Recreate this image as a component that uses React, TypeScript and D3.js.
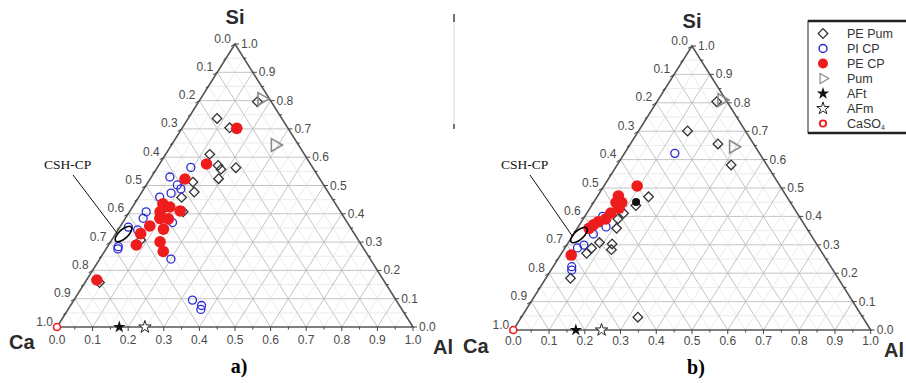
import React from "react";
import * as d3 from "d3";

// Compositions: si = Si fraction, al = Al fraction (Ca = 1 - si - al)
type Pt = { si: number; al: number };

// ---- panel a) ----
const pePumA: Pt[] = [
  { si: 0.796, al: 0.165 }, { si: 0.737, al: 0.081 }, { si: 0.704, al: 0.133 },
  { si: 0.61, al: 0.124 }, { si: 0.571, al: 0.167 }, { si: 0.557, al: 0.182 },
  { si: 0.563, al: 0.221 }, { si: 0.524, al: 0.192 }, { si: 0.512, al: 0.126 },
  { si: 0.477, al: 0.147 }, { si: 0.458, al: 0.121 }, { si: 0.407, al: 0.151 },
  { si: 0.307, al: 0.082 }, { si: 0.157, al: 0.041 },
];
const piCpA: Pt[] = [
  { si: 0.564, al: 0.094 }, { si: 0.53, al: 0.052 }, { si: 0.502, al: 0.087 },
  { si: 0.488, al: 0.104 }, { si: 0.473, al: 0.084 }, { si: 0.459, al: 0.059 },
  { si: 0.407, al: 0.047 }, { si: 0.384, al: 0.05 }, { si: 0.353, al: 0.024 },
  { si: 0.343, al: 0.055 }, { si: 0.284, al: 0.03 }, { si: 0.276, al: 0.033 },
  { si: 0.24, al: 0.2 }, { si: 0.369, al: 0.14 }, { si: 0.095, al: 0.333 },
  { si: 0.076, al: 0.368 }, { si: 0.062, al: 0.373 },
];
const peCpA: Pt[] = [
  { si: 0.702, al: 0.154 }, { si: 0.576, al: 0.132 }, { si: 0.523, al: 0.098 },
  { si: 0.435, al: 0.08 }, { si: 0.425, al: 0.091 }, { si: 0.407, al: 0.086 },
  { si: 0.424, al: 0.105 }, { si: 0.384, al: 0.097 }, { si: 0.382, al: 0.122 },
  { si: 0.41, al: 0.141 }, { si: 0.346, al: 0.126 }, { si: 0.357, al: 0.082 },
  { si: 0.33, al: 0.07 }, { si: 0.29, al: 0.078 }, { si: 0.301, al: 0.139 },
  { si: 0.267, al: 0.165 }, { si: 0.166, al: 0.029 },
];
const pumA: Pt[] = [{ si: 0.806, al: 0.172 }, { si: 0.643, al: 0.291 }];
const dotA: Pt[] = [];

// ---- panel b) ----
const pePumB: Pt[] = [
  { si: 0.804, al: 0.167 }, { si: 0.701, al: 0.137 }, { si: 0.655, al: 0.245 },
  { si: 0.581, al: 0.319 }, { si: 0.469, al: 0.144 }, { si: 0.438, al: 0.124 },
  { si: 0.411, al: 0.103 }, { si: 0.391, al: 0.097 }, { si: 0.358, al: 0.11 },
  { si: 0.303, al: 0.125 }, { si: 0.283, al: 0.133 }, { si: 0.308, al: 0.087 },
  { si: 0.288, al: 0.075 }, { si: 0.27, al: 0.07 }, { si: 0.182, al: 0.069 },
  { si: 0.045, al: 0.326 },
];
const piCpB: Pt[] = [
  { si: 0.622, al: 0.141 }, { si: 0.41, al: 0.067 }, { si: 0.4, al: 0.05 },
  { si: 0.363, al: 0.078 }, { si: 0.338, al: 0.055 }, { si: 0.299, al: 0.048 },
  { si: 0.289, al: 0.035 }, { si: 0.223, al: 0.052 }, { si: 0.211, al: 0.058 },
];
const peCpB: Pt[] = [
  { si: 0.507, al: 0.093 }, { si: 0.472, al: 0.058 }, { si: 0.449, al: 0.063 },
  { si: 0.449, al: 0.079 }, { si: 0.429, al: 0.081 }, { si: 0.412, al: 0.067 },
  { si: 0.391, al: 0.063 }, { si: 0.381, al: 0.047 }, { si: 0.37, al: 0.039 },
  { si: 0.358, al: 0.033 }, { si: 0.264, al: 0.03 },
];
const pumB: Pt[] = [{ si: 0.81, al: 0.178 }, { si: 0.645, al: 0.293 }];
const dotB: Pt[] = [{ si: 0.451, al: 0.118 }];

// Reference phases (same in both panels)
const aft: Pt[] = [{ si: 0, al: 0.175 }];
const afm: Pt[] = [{ si: 0, al: 0.247 }];
const caso4: Pt[] = [{ si: 0, al: 0 }];

const tickValues = d3.range(0, 11).map((i) => i / 10);
const tickLabels = ["0.0", "0.1", "0.2", "0.3", "0.4", "0.5", "0.6", "0.7", "0.8", "0.9", "1.0"];
const legendLabels = ["PE Pum", "PI CP", "PE CP", "Pum", "AFt", "AFm", "CaSO"];

const FONT = "'Liberation Sans', Arial, sans-serif";
const SERIF = "'Liberation Serif', 'Times New Roman', serif";
const RED = "#ee1c1c";
const BLUE = "#2a2ad6";
const DARK = "#333";
const GRAY = "#8a8a8a";

const diamondPath = d3.symbol().type(d3.symbolSquare).size(46)()!;
const trianglePath = d3.symbol().type(d3.symbolTriangle).size(70)()!;
const starPath = d3.symbol().type(d3.symbolStar).size(48)()!;

type Geom = {
  x0: number; yBase: number; w: number; h: number;
  labelDy: number; caX: number; caY: number; alX: number; alY: number;
  siY: number; tag: string; tagY: number;
  ell: { cx: number; cy: number }; lead: [number, number, number, number]; cshX: number; cshY: number;
};

type Series = { peCp: Pt[]; piCp: Pt[]; pePum: Pt[]; pum: Pt[]; dot: Pt[] };

function Panel({ g, s }: { g: Geom; s: Series }) {
  const xs = d3.scaleLinear().domain([0, 1]).range([g.x0, g.x0 + g.w]);
  const ys = d3.scaleLinear().domain([0, 1]).range([g.yBase, g.yBase - g.h]);
  const P = (al: number, si: number): [number, number] => [xs(al + si / 2), ys(si)];

  const grid: { a: [number, number]; b: [number, number]; major: boolean }[] = [];
  d3.range(1, 20).forEach((i) => {
    const v = i / 20;
    const major = i % 2 === 0;
    grid.push({ a: P(0, v), b: P(1 - v, v), major });
    grid.push({ a: P(v, 0), b: P(v, 1 - v), major });
    grid.push({ a: P(1 - v, 0), b: P(0, 1 - v), major });
  });

  const minor = d3.range(0, 21).map((i) => i / 20);
  const A = P(0, 0), B = P(1, 0), C = P(0, 1);
  const topX = C[0];

  return (
    <g>
      {grid.map((l, i) => (
        <line key={i} x1={l.a[0]} y1={l.a[1]} x2={l.b[0]} y2={l.b[1]}
          stroke={l.major ? "#bdbdbd" : "#e2e2e2"} strokeWidth={l.major ? 0.9 : 0.7} />
      ))}
      <path d={`M${A[0]},${A[1]}L${B[0]},${B[1]}L${C[0]},${C[1]}Z`} fill="none" stroke="#555" strokeWidth={1.6} />

      {/* ticks */}
      {minor.map((v, i) => {
        const len = i % 2 === 0 ? 4 : 2.5;
        const b = P(v, 0), l = P(0, 1 - v), r = P(1 - v, v);
        return (
          <g key={i} stroke="#444" strokeWidth={1}>
            <line x1={b[0]} y1={b[1]} x2={b[0]} y2={b[1] + len} />
            <line x1={l[0]} y1={l[1]} x2={l[0] - len} y2={l[1] + len * 0.6} />
            <line x1={r[0]} y1={r[1]} x2={r[0] + len} y2={r[1]} />
          </g>
        );
      })}
      {tickValues.map((v, i) => {
        const b = P(v, 0), l = P(0, 1 - v), r = P(1 - v, v);
        return (
          <g key={i} fontFamily={FONT} fontSize={12} fill="#4a4a4a">
            <text x={b[0]} y={b[1] + g.labelDy} textAnchor="middle">{tickLabels[i]}</text>
            <text x={l[0] - 4} y={l[1] - 1.5} textAnchor="end">{tickLabels[i]}</text>
            <text x={r[0] + 6} y={r[1] + 4} textAnchor="start">{tickLabels[i]}</text>
          </g>
        );
      })}

      {/* vertex names */}
      <g fontFamily={FONT} fontWeight="bold" fontSize={20} fill="#2b2b2b">
        <text x={topX} y={g.siY} textAnchor="middle">Si</text>
        <text x={g.caX} y={g.caY}>Ca</text>
        <text x={g.alX} y={g.alY}>Al</text>
      </g>
      <text x={topX + 4} y={g.tagY} textAnchor="middle" fontFamily={SERIF} fontWeight="bold" fontSize={20}>{g.tag}</text>

      {/* data */}
      {s.pePum.map((d, i) => {
        const [x, y] = P(d.al, d.si);
        return <path key={"d" + i} d={diamondPath} transform={`translate(${x},${y}) rotate(45)`} fill="none" stroke={DARK} strokeWidth={1.3} />;
      })}
      {s.dot.map((d, i) => {
        const [x, y] = P(d.al, d.si);
        return <circle key={"k" + i} cx={x} cy={y} r={4} fill="#111" />;
      })}
      {s.piCp.map((d, i) => {
        const [x, y] = P(d.al, d.si);
        return <circle key={"b" + i} cx={x} cy={y} r={4} fill="none" stroke={BLUE} strokeWidth={1.3} />;
      })}
      {s.peCp.map((d, i) => {
        const [x, y] = P(d.al, d.si);
        return <circle key={"r" + i} cx={x} cy={y} r={5.8} fill={RED} />;
      })}
      {s.pum.map((d, i) => {
        const [x, y] = P(d.al, d.si);
        return <path key={"t" + i} d={trianglePath} transform={`translate(${x},${y}) rotate(90)`} fill="none" stroke={GRAY} strokeWidth={1.6} />;
      })}
      {aft.map((d, i) => {
        const [x, y] = P(d.al, d.si);
        return <path key={"s" + i} d={starPath} transform={`translate(${x},${y})`} fill="#111" />;
      })}
      {afm.map((d, i) => {
        const [x, y] = P(d.al, d.si);
        return <path key={"m" + i} d={starPath} transform={`translate(${x},${y})`} fill="#fff" stroke="#222" strokeWidth={1} />;
      })}
      {caso4.map((d, i) => {
        const [x, y] = P(d.al, d.si);
        return <circle key={"c" + i} cx={x} cy={y} r={3.5} fill="#fff" stroke={RED} strokeWidth={1.6} />;
      })}

      {/* CSH-CP annotation */}
      <text x={g.cshX} y={g.cshY} fontFamily={SERIF} fontWeight="normal" fontSize={13.5} fill="#111">CSH-CP</text>
      <line x1={g.lead[0]} y1={g.lead[1]} x2={g.lead[2]} y2={g.lead[3]} stroke="#111" strokeWidth={1} />
      <ellipse cx={g.ell.cx} cy={g.ell.cy} rx={10.5} ry={4.5} transform={`rotate(-42,${g.ell.cx},${g.ell.cy})`}
        fill="none" stroke="#000" strokeWidth={1.5} />
    </g>
  );
}

const geomA: Geom = {
  x0: 57, yBase: 327, w: 356, h: 283, labelDy: 17,
  caX: 9, caY: 349, alX: 433, alY: 354, siY: 24, tag: "a)", tagY: 373,
  ell: { cx: 123.5, cy: 234 }, lead: [73, 175, 117, 233], cshX: 44, cshY: 169,
};
const geomB: Geom = {
  x0: 513.3, yBase: 330, w: 357.4, h: 284, labelDy: 15,
  caX: 463, caY: 353, alX: 884, alY: 357, siY: 28, tag: "b)", tagY: 374,
  ell: { cx: 579, cy: 235 }, lead: [530, 175, 573, 237], cshX: 501, cshY: 169,
};

function Legend() {
  const x = 808;
  const rowY = (i: number) => 33.5 + i * 15;
  const sx = 823;
  return (
    <g>
      <rect x={x} y={21} width={110} height={112} fill="#fff" stroke="#222" strokeWidth={1} />
      <line x1={x} y1={21} x2={906} y2={21} stroke="#222" strokeWidth={2.5} />
      <line x1={x} y1={133} x2={906} y2={133} stroke="#222" strokeWidth={2.5} />
      <path d={diamondPath} transform={`translate(${sx},${rowY(0)}) rotate(45)`} fill="none" stroke={DARK} strokeWidth={1.3} />
      <circle cx={sx} cy={rowY(1)} r={4} fill="none" stroke={BLUE} strokeWidth={1.5} />
      <circle cx={sx} cy={rowY(2)} r={5} fill={RED} />
      <path d={trianglePath} transform={`translate(${sx},${rowY(3)}) rotate(90) scale(0.8)`} fill="none" stroke={GRAY} strokeWidth={1.5} />
      <path d={starPath} transform={`translate(${sx},${rowY(4)})`} fill="#111" />
      <path d={starPath} transform={`translate(${sx},${rowY(5)})`} fill="#fff" stroke="#222" strokeWidth={1} />
      <circle cx={sx} cy={rowY(6)} r={3.2} fill="#fff" stroke={RED} strokeWidth={1.8} />
      <g fontFamily={FONT} fontSize={12.5} fill="#333">
        {legendLabels.map((t, i) => (
          <text key={i} x={847} y={rowY(i) + 4.5}>
            {t}
            {i === 6 ? <tspan fontSize={7} dy={2}>4</tspan> : null}
          </text>
        ))}
      </g>
    </g>
  );
}

export default function App() {
  return (
    <svg width={906} height={383} viewBox="0 0 906 383"
      style={{ position: "absolute", left: 0, top: 0, background: "#fff" }}>
      <rect x={0} y={0} width={906} height={383} fill="#fff" />
      <Panel g={geomA} s={{ peCp: peCpA, piCp: piCpA, pePum: pePumA, pum: pumA, dot: dotA }} />
      <Panel g={geomB} s={{ peCp: peCpB, piCp: piCpB, pePum: pePumB, pum: pumB, dot: dotB }} />
      {/* panel divider marks */}
      <line x1={454} y1={14} x2={454} y2={128} stroke="#d8d8d8" strokeWidth={1} />
      <line x1={454} y1={14} x2={454} y2={22} stroke="#222" strokeWidth={1.2} />
      <line x1={454} y1={124} x2={454} y2={129} stroke="#222" strokeWidth={1.2} />
      <Legend />
    </svg>
  );
}
